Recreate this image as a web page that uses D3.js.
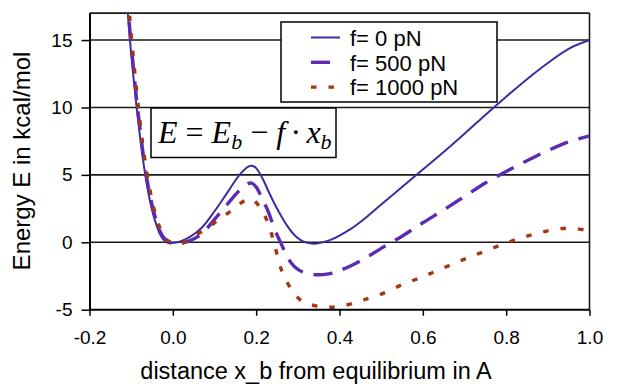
<!DOCTYPE html>
<html>
<head>
<meta charset="utf-8">
<script src="https://cdn.jsdelivr.net/npm/d3@7"></script>
<style>
  html, body { margin: 0; padding: 0; background: #fff; }
  svg { display: block; }
</style>
</head>
<body>
<svg id="chart" width="630" height="386"></svg>
<script>
// Displacement from equilibrium (Å), shared by all three force curves
const distance = [-0.11, -0.103, -0.095, -0.087, -0.079, -0.071, -0.063, -0.055, -0.047, -0.039,
  -0.031, -0.023, -0.015, -0.007, 0.005, 0.02, 0.04, 0.07, 0.1, 0.13, 0.16, 0.18, 0.19, 0.2,
  0.215, 0.23, 0.245, 0.26, 0.275, 0.29, 0.305, 0.32, 0.34, 0.36, 0.38, 0.4, 0.43, 0.46, 0.5,
  0.55, 0.6, 0.65, 0.7, 0.75, 0.8, 0.85, 0.9, 0.95, 1.0];

// Energy (kcal/mol) for each applied force
const energyF0 = [17.8, 15.0, 12.4, 10.0, 7.9, 6.0, 4.4, 3.1, 2.05, 1.25,
  0.62, 0.22, 0.02, -0.07, -0.03, 0.08, 0.38, 1.1, 2.3, 3.65, 5.0, 5.6, 5.68, 5.5,
  4.75, 3.75, 2.8, 1.95, 1.2, 0.6, 0.2, -0.02, -0.1, 0.0, 0.2, 0.5, 1.05, 1.75, 2.8,
  4.1, 5.4, 6.7, 8.05, 9.45, 10.8, 12.1, 13.3, 14.35, 15.0];

const energyF500 = [18.6, 15.7, 13.1, 10.6, 8.5, 6.5, 4.85, 3.5, 2.4, 1.53,
  0.84, 0.39, 0.13, -0.02, -0.07, -0.06, 0.1, 0.65, 1.7, 2.8, 3.85, 4.35, 4.38, 4.1,
  3.2, 2.2, 0.9, -0.1, -1.1, -1.75, -2.1, -2.3, -2.4, -2.4, -2.3, -2.1, -1.7, -1.2, -0.45,
  0.45, 1.45, 2.4, 3.4, 4.4, 5.25, 6.05, 6.8, 7.45, 7.9];

const energyF1000 = [19.4, 16.5, 13.8, 11.25, 9.0, 7.0, 5.3, 3.9, 2.7, 1.8,
  1.07, 0.55, 0.2, 0.03, -0.1, -0.1, 0.28, 0.8, 1.45, 2.1, 2.85, 3.2, 3.2, 2.95,
  2.3, 1.3, -0.3, -2.0, -3.0, -3.75, -4.25, -4.5, -4.7, -4.8, -4.82, -4.75, -4.55, -4.25, -3.85,
  -3.15, -2.55, -1.9, -1.25, -0.65, -0.05, 0.45, 0.85, 1.05, 0.85];

const seriesNames = ["f= 0 pN", "f= 500 pN", "f= 1000 pN"];
const xTicks = [-0.2, 0.0, 0.2, 0.4, 0.6, 0.8, 1.0];
const yTicks = [-5, 0, 5, 10, 15];

const svg = d3.select("#chart");
const plotLeft = 89.5, plotRight = 589.5, plotTop = 13.1, plotBottom = 309.7;

const x = d3.scaleLinear().domain([-0.2, 1.0]).range([plotLeft, plotRight]);
const y = d3.scaleLinear().domain([-5, 17]).range([plotBottom, plotTop]);

const styles = [
  { color: "#3d2b9f", width: 2.0, dash: null },
  { color: "#5b2bb3", width: 3.4, dash: "19,11" },
  { color: "#a3380f", width: 3.4, dash: "5.5,12" }
];
const seriesData = [energyF0, energyF500, energyF1000];

// horizontal grid lines and top frame
svg.append("g").selectAll("line")
  .data(yTicks.filter(v => v > -5).concat([17]))
  .join("line")
  .attr("x1", plotLeft).attr("x2", plotRight)
  .attr("y1", d => y(d)).attr("y2", d => y(d))
  .attr("stroke", "#1a1a1a").attr("stroke-width", 1.6);

// right frame
svg.append("line")
  .attr("x1", plotRight).attr("x2", plotRight)
  .attr("y1", y(17)).attr("y2", y(-5))
  .attr("stroke", "#1a1a1a").attr("stroke-width", 1.6);

// plotting area clip
svg.append("defs").append("clipPath").attr("id", "plotClip")
  .append("rect")
  .attr("x", plotLeft).attr("y", y(17))
  .attr("width", plotRight - plotLeft).attr("height", y(-5) - y(17));

const line = d3.line().curve(d3.curveCatmullRom.alpha(0.5));

const curves = svg.append("g").attr("clip-path", "url(#plotClip)");
seriesData.forEach((vals, i) => {
  const pts = distance.map((d, k) => [x(d), y(vals[k])]);
  curves.append("path")
    .attr("d", line(pts))
    .attr("fill", "none")
    .attr("stroke", styles[i].color)
    .attr("stroke-width", styles[i].width)
    .attr("stroke-dasharray", styles[i].dash);
});

// axes
const fmtX = d => d3.format(".1f")(d).replace("\u2212", "-");
const fmtY = d => String(d);

const xAxis = svg.append("g")
  .attr("transform", `translate(0,${plotBottom})`)
  .call(d3.axisBottom(x).tickValues(xTicks).tickFormat(fmtX).tickSize(6).tickPadding(15).tickSizeOuter(0));
const yAxis = svg.append("g")
  .attr("transform", `translate(${plotLeft},0)`)
  .call(d3.axisLeft(y).tickValues(yTicks).tickFormat(fmtY).tickSize(8).tickPadding(9).tickSizeOuter(0));

[xAxis, yAxis].forEach(g => {
  g.select(".domain").attr("stroke", "#000").attr("stroke-width", 2);
  g.selectAll(".tick line").attr("stroke", "#000").attr("stroke-width", 1.5);
  g.selectAll(".tick text")
    .attr("fill", "#000")
    .style("font-family", "'Liberation Sans', Arial, sans-serif")
    .style("font-size", "19px");
});
// bottom axis line runs the full width
xAxis.select(".domain").attr("d", `M${plotLeft},0H${plotRight}`);

// axis titles
svg.append("text")
  .attr("x", 316).attr("y", 379)
  .attr("text-anchor", "middle")
  .style("font-family", "'Liberation Sans', Arial, sans-serif")
  .style("font-size", "23.5px")
  .text("distance x_b from equilibrium in A");

svg.append("text")
  .attr("transform", "translate(30,161) rotate(-90)")
  .attr("text-anchor", "middle")
  .style("font-family", "'Liberation Sans', Arial, sans-serif")
  .style("font-size", "24px")
  .text("Energy E in kcal/mol");

// legend
const legend = svg.append("g");
legend.append("rect")
  .attr("x", 281).attr("y", 22).attr("width", 216).attr("height", 80)
  .attr("fill", "#fff").attr("stroke", "#000").attr("stroke-width", 1.5);
seriesNames.forEach((name, i) => {
  const cy = 37.5 + i * 24.8;
  legend.append("line")
    .attr("x1", 311).attr("x2", 340)
    .attr("y1", cy).attr("y2", cy)
    .attr("stroke", styles[i].color)
    .attr("stroke-width", styles[i].width)
    .attr("stroke-dasharray", styles[i].dash);
  legend.append("text")
    .attr("x", 350).attr("y", cy + 8.3)
    .style("font-family", "'Liberation Sans', Arial, sans-serif")
    .style("font-size", "22px")
    .text(name);
});

// formula box
const fbox = svg.append("g");
fbox.append("rect")
  .attr("x", 151).attr("y", 108).attr("width", 185).attr("height", 49.5)
  .attr("fill", "#fff").attr("stroke", "#000").attr("stroke-width", 1.5);
const ft = fbox.append("text")
  .attr("x", 158).attr("y", 143)
  .attr("xml:space", "preserve")
  .style("white-space", "pre")
  .style("font-family", "'Liberation Serif', 'Times New Roman', serif")
  .style("font-size", "32px");
const parts = [
  { t: "E", it: true }, { t: " = ", it: false }, { t: "E", it: true },
  { t: "b", it: true, sub: true }, { t: " \u2212 ", it: false }, { t: "f", it: true },
  { t: "\u2006\u00b7\u2006", it: false }, { t: "x", it: true }, { t: "b", it: true, sub: true }
];
let shifted = false;
parts.forEach(p => {
  const ts = ft.append("tspan").text(p.t)
    .style("font-style", p.it ? "italic" : "normal");
  if (p.sub) { ts.attr("dy", 6).style("font-size", "22px"); shifted = true; }
  else if (shifted) { ts.attr("dy", -6); shifted = false; }
});
</script>
</body>
</html>
